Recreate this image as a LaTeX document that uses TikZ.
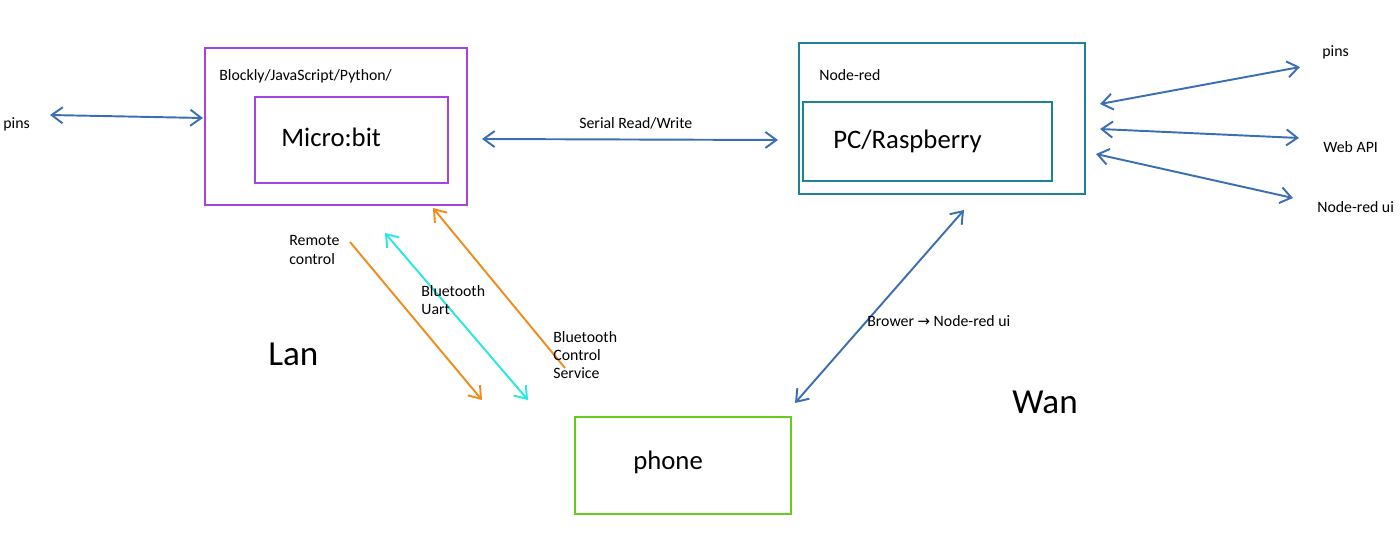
\documentclass[tikz,border=0pt]{standalone}
\usepackage{fontspec}
\setmainfont{Carlito}
\newfontfamily\arrowfont{DejaVu Sans}
\usetikzlibrary{arrows.meta}

\definecolor{mbpurple}{RGB}{166,66,222}
\definecolor{nrteal}{RGB}{30,130,150}
\definecolor{phgreen}{RGB}{102,204,34}
\definecolor{linkblue}{RGB}{60,110,180}
\definecolor{btorange}{RGB}{240,140,30}
\definecolor{btcyan}{RGB}{40,230,230}

\tikzset{
  box/.style={draw, line width=1.1pt},
  lbl/.style={anchor=west, inner sep=0pt, font=\fontsize{9}{10.3}\selectfont, align=left},
  big/.style={anchor=west, inner sep=0pt, font=\fontsize{15.2}{17}\selectfont},
  huge/.style={anchor=west, inner sep=0pt, font=\fontsize{20}{22}\selectfont},
  link/.style={line width=1.1pt, {Straight Barb[length=2.2mm,width=3.2mm]}-{Straight Barb[length=2.2mm,width=3.2mm]}},
  onelink/.style={line width=1.1pt, -{Straight Barb[length=2.2mm,width=3.2mm]}}
}

\begin{document}
\begin{tikzpicture}[x=0.2mm, y=-0.2mm]
\useasboundingbox (0,0) rectangle (1400,539);

% boxes
\draw[box, mbpurple] (205,48) rectangle (467,205);
\draw[box, mbpurple] (255,97) rectangle (448,183);
\draw[box, nrteal] (799,43) rectangle (1085,194);
\draw[box, nrteal] (803,102) rectangle (1052,181);
\draw[box, phgreen] (575,417) rectangle (791,514);

\node[lbl] (lang) at (219,76) {Blockly/JavaScript/Python/};
\node[big] (microbit) at (281,137) {Micro:bit};
\node[lbl] (nodered) at (819,75) {Node-red};
\node[big] (pc) at (833,141) {PC/Raspberry};
\node[big] (phone) at (633,462) {phone};
\node[huge] (lan) at (268,354) {Lan};
\node[huge] (wan) at (1012,402) {Wan};

% left pins and serial
\coordinate (pinsL) at (50,115);
\coordinate (mbL) at (203,118);
\draw[link, linkblue] (pinsL) -- (mbL);
\node[lbl] (pinsLtxt) at (3,124) {pins};

\coordinate (mbR) at (482,139);
\coordinate (nrL) at (778,140);
\draw[link, linkblue] (mbR) -- (nrL);
\node[lbl] (serial) at (579,123) {Serial Read/Write};

% right side
\foreach \name/\ax/\ay/\bx/\by/\tx/\ty/\txt in {
  pins/1100/104/1300/67/1322/52/pins,
  webapi/1100/129/1299/138/1323/147/Web API,
  noderedui/1096/154/1293/198/1317/207/Node-red ui} {
\coordinate (\name A) at (\ax,\ay);
\coordinate (\name B) at (\bx,\by);
\draw[link, linkblue] (\name A) -- (\name B);
\node[lbl] (\name txt) at (\tx,\ty) {\txt};
}

% phone links
\coordinate (nrB) at (964,210);
\coordinate (phTR) at (795,403);
\draw[link, linkblue] (nrB) -- (phTR);
\node[lbl] (brower) at (867,321) {Brower {\arrowfont\fontsize{8.5}{9}\selectfont →} Node-red ui};

\coordinate (rcA) at (350,242);
\coordinate (rcB) at (482,400);
\draw[onelink, btorange] (rcA) -- (rcB);
\node[lbl] (remote) at (289,250) {Remote\\control};

\coordinate (uartA) at (385,233);
\coordinate (uartB) at (528,400);
\draw[link, btcyan] (uartA) -- (uartB);
\node[lbl] (uart) at (421,300) {Bluetooth\\Uart};

\coordinate (bcsA) at (565,368);
\coordinate (bcsB) at (433,208);
\draw[onelink, btorange] (bcsA) -- (bcsB);
\node[lbl] (bcs) at (553,355) {Bluetooth\\Control\\Service};

\end{tikzpicture}
\end{document}
